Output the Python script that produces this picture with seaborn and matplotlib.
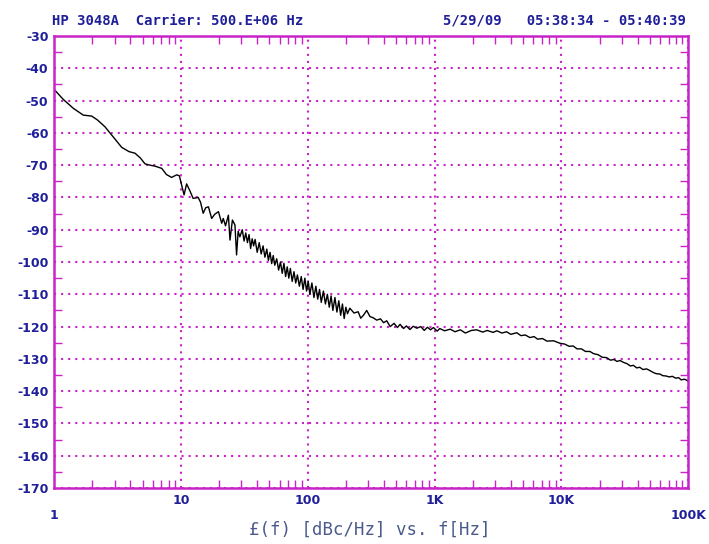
import pandas as pd
import matplotlib
matplotlib.use("Agg")
import matplotlib.pyplot as plt
import seaborn as sns
from matplotlib.ticker import FixedLocator, NullFormatter

# offset frequency (Hz) and phase noise (dBc/Hz)
# 1 Hz .. 27.5 Hz
low_f = [1, 1.18, 1.42, 1.7, 1.98, 2.2, 2.52, 2.85, 3.42, 3.9,
         4.35, 4.8, 5.22, 5.7, 6.25, 7.07, 7.7, 8.45, 9.27, 9.73,
         10.6, 11.1, 11.8, 12.5, 13.7, 14.3, 15.0, 15.7, 16.5, 17.5,
         18.5, 19.8, 21.0, 21.6, 22.5, 23.7, 24.4, 25.5, 26.7, 27.5]
low_l = [-46.5, -49.6, -52.4, -54.5, -54.8, -56.0, -58.1, -60.7, -64.5, -65.8,
         -66.3, -67.8, -69.6, -70.0, -70.3, -71.0, -72.9, -73.8, -73.0, -73.3,
         -79.2, -75.8, -78.0, -80.3, -80.0, -81.5, -84.9, -83.2, -82.9, -86.5,
         -85.2, -84.4, -88.0, -86.5, -88.8, -85.5, -93.2, -87.0, -88.5, -97.8]

# noisy band, 28 Hz .. 215 Hz
mid_f = [28.3, 29.2, 30.5, 31.5, 32.5, 33.5, 34.5, 35.5, 36.5, 37.5,
         38.5, 40, 41.5, 43, 44.5, 46, 47.6, 49, 50.5, 52,
         53.5, 55, 57, 59, 61, 63, 65, 67, 69, 71,
         73, 75.5, 78, 80.5, 83, 86, 89, 92, 95, 98,
         101, 104, 108, 112, 116, 120, 124, 128, 133, 138,
         143, 148, 153, 158, 164, 170, 176, 182, 188, 194,
         200, 206, 215]
mid_l = [-90.5, -92.2, -90.0, -93.5, -91.0, -94.0, -91.5, -95.8, -92.8, -95.0,
         -93.0, -97.0, -94.0, -97.5, -95.0, -98.5, -96.0, -99.5, -97.0, -100.5,
         -98.0, -101.0, -99.0, -102.5, -100.0, -103.5, -100.4, -104.5, -101.5, -105.0,
         -102.0, -106.0, -103.0, -106.5, -104.0, -107.5, -104.5, -108.5, -105.0, -109.0,
         -106.0, -110.0, -106.5, -111.0, -107.5, -111.5, -108.5, -112.5, -109.0, -113.0,
         -110.0, -114.0, -110.5, -115.0, -111.0, -115.5, -112.0, -116.5, -113.0, -117.5,
         -114.0, -116.0, -114.3]

# 232 Hz .. 100 kHz
high_f = [232, 250, 262, 275, 292, 310, 330, 350, 375, 397,
          420, 447, 480, 510, 535, 570, 600, 640, 680, 725,
          780, 830, 880, 930, 980, 1050, 1100, 1200, 1330, 1450,
          1600, 1750, 1950, 2150, 2400, 2600, 2900, 3100, 3400, 3700,
          4000, 4450, 4800, 5200, 5650, 6100, 6500, 7100, 7700, 8700,
          9800, 10600, 11500, 12400, 13300, 14400, 15500, 16800, 18000, 19500,
          21000, 22700, 24400, 26000, 27500, 29000, 31000, 33000, 35000, 37000,
          39300, 41500, 44000, 47000, 49800, 53000, 56000, 60000, 63000, 67000,
          71000, 75000, 80000, 84000, 88000, 94000, 100000]
high_l = [-115.8, -115.4, -117.4, -116.5, -115.0, -116.9, -117.3, -118.0, -117.6, -118.8,
          -118.2, -120.0, -119.0, -120.3, -119.3, -120.6, -119.8, -120.9, -119.9, -120.5,
          -120.0, -121.2, -120.2, -121.0, -120.3, -121.4, -120.6, -121.3, -120.8, -121.6,
          -121.0, -122.0, -121.2, -121.0, -121.7, -121.2, -121.8, -121.3, -122.0, -121.6,
          -122.4, -121.9, -122.8, -122.6, -123.4, -123.1, -123.9, -123.7, -124.5, -124.4,
          -125.2, -125.4, -126.1, -126.0, -126.9, -126.9, -127.7, -127.7, -128.4, -128.7,
          -129.5, -129.6, -130.4, -130.2, -130.8, -130.5, -131.1, -131.5, -132.2, -132.0,
          -132.8, -132.6, -133.3, -133.1, -133.6, -134.2, -134.6, -134.7, -135.2, -135.3,
          -135.6, -135.4, -136.0, -135.8, -136.5, -136.3, -136.9]

x_ticks = [1, 10, 100, 1000, 10000, 100000]
x_labels = ["1", "10", "100", "1K", "10K", "100K"]
y_ticks = list(range(-170, -29, 10))

pink = "#c824c8"
blue = "#1f1f9a"

df = pd.DataFrame({"f": low_f + mid_f + high_f, "L": low_l + mid_l + high_l})

sns.set_style("white")
fig = plt.figure(figsize=(7.09, 5.44), dpi=100)
ax = fig.add_axes([0.0762, 0.1029, 0.8944, 0.8309])

sns.lineplot(data=df, x="f", y="L", ax=ax, color="black", linewidth=1.0,
             estimator=None, sort=False)

ax.set_xscale("log")
ax.set_xlim(1, 100000)
ax.set_ylim(-170, -30)

# grid: dotted magenta at each decade / 10 dB
ax.set_xticks(x_ticks)
ax.set_xticklabels(x_labels)
ax.set_yticks(y_ticks)
ax.set_yticklabels([str(v) for v in y_ticks])
ax.grid(True, which="major", color=pink, linestyle=(0, (1.0, 2.4)), linewidth=1.5)

minor_x = [m * 10 ** d for d in range(5) for m in range(2, 10)]
ax.xaxis.set_minor_locator(FixedLocator(minor_x))
ax.xaxis.set_minor_formatter(NullFormatter())
ax.yaxis.set_minor_locator(FixedLocator(list(range(-165, -30, 10))))

ax.tick_params(axis="x", which="minor", direction="in", length=6, width=1,
               color=pink, top=True, bottom=True)
ax.tick_params(axis="y", which="minor", direction="in", length=6, width=1,
               color=pink, left=True, right=True)
ax.tick_params(axis="both", which="major", length=0, labelcolor=blue)
ax.tick_params(axis="y", which="major", pad=4)
for lab in ax.get_yticklabels() + ax.get_xticklabels():
    lab.set_fontweight("bold")
    lab.set_fontsize(9)

xt = ax.xaxis.get_major_ticks()
for i, t in enumerate(xt):
    t.set_pad(15 if i in (0, len(xt) - 1) else 4)

for sp in ax.spines.values():
    sp.set_color(pink)
    sp.set_linewidth(1.8)
    sp.set_visible(True)

ax.set_xlabel("")
ax.set_ylabel("")

fig.text(0.073, 0.962, "HP 3048A  Carrier: 500.E+06 Hz", family="DejaVu Sans Mono",
         fontweight="bold", fontsize=10, color=blue, va="center")
fig.text(0.968, 0.962, "5/29/09   05:38:34 - 05:40:39", family="DejaVu Sans Mono",
         fontweight="bold", fontsize=10, color=blue, va="center", ha="right")
fig.text(0.522, 0.026, "£(f) [dBc/Hz] vs. f[Hz]", family="DejaVu Sans Mono",
         fontsize=12.5, color="#4a5a8c", ha="center", va="center")

fig.savefig("out.png", dpi=100)
